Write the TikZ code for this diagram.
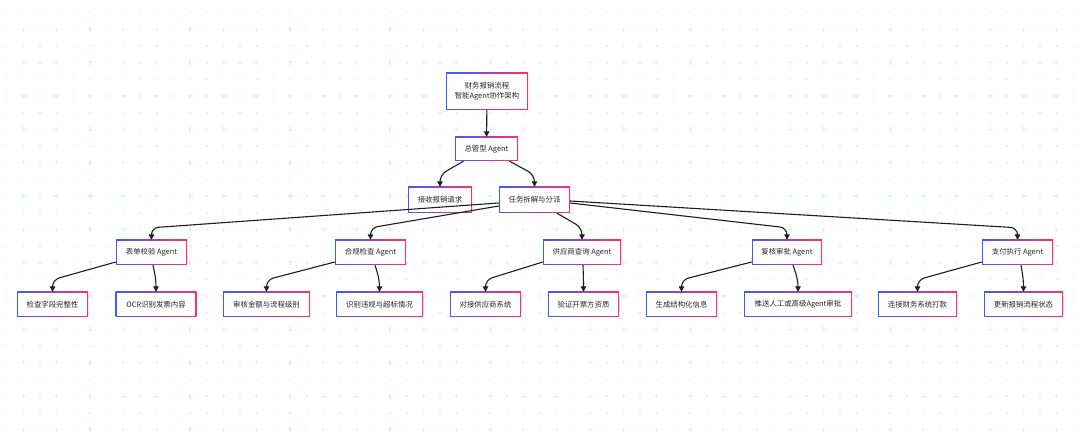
\documentclass[tikz,border=0pt]{standalone}
\usepackage{fontspec}
\setmainfont{Noto Sans CJK SC}
\usetikzlibrary{arrows.meta}

\definecolor{boxblue}{RGB}{60,90,255}
\definecolor{boxpink}{RGB}{255,50,105}
\definecolor{gridcol}{RGB}{226,240,245}
\definecolor{linecol}{RGB}{30,30,30}

\begin{document}
\begin{tikzpicture}[x=1pt,y=-1pt,
        box/.style={rectangle, minimum width=#1, minimum height=25pt, inner xsep=2pt,
            left color=boxblue, right color=boxpink, align=center, text=black!85,
            font=\fontsize{7.4}{10}\selectfont,
            path picture={\fill[white] ([shift={(1.4pt,1.4pt)}]path picture bounding box.south west)
                rectangle ([shift={(-1.4pt,-1.4pt)}]path picture bounding box.north east);}},
        arr/.style={draw=linecol, line width=1.1pt, rounded corners=7pt,
            -{Triangle[length=5.5pt,width=5.5pt]}}]
    \useasboundingbox (0,0) rectangle (1080,438);
    \fill[white] (0,0) rectangle (1080,438);
    % background grid
    \foreach \i in {0,...,64}
        \foreach \j in {0,...,25} {
            \pgfmathtruncatemacro{\odd}{mod(\i,2)*mod(\j,2)}
            \ifnum\odd=1
                \draw[gridcol, line width=1.2pt] (6.67+16.67*\i-2.5,12.7+16.67*\j) -- ++(5,0)
                    (6.67+16.67*\i,12.7+16.67*\j-2.5) -- ++(0,5);
            \else
                \fill[gridcol] (6.67+16.67*\i-0.8,12.7+16.67*\j-0.8) rectangle ++(1.6,1.6);
            \fi
        }

    % top
    \node[box=82pt, minimum height=37pt] (ttl) at (487,91.5) {财务报销流程\\智能Agent协作架构};
    \node[box=63pt, minimum height=24pt] (mgr) at (486.5,149) {总管型 Agent};
    \node[box=64pt, minimum height=26pt] (rcv) at (440,200) {接收报销请求};
    \node[box=71pt, minimum height=26pt] (tsk) at (534.5,200) {任务拆解与分派};

    % agents
    \node[box=71pt] (form) at (151.5,252.5) {表单校验 Agent};
    \node[box=71pt] (comp) at (370.5,252.5) {合规检查 Agent};
    \node[box=78pt] (supp) at (582,252.5) {供应商查询 Agent};
    \node[box=70pt] (rev) at (787,252.5) {复核审批 Agent};
    \node[box=71pt] (pay) at (1017.5,252.5) {支付执行 Agent};

    % tasks
    \node[box=71pt] (chk) at (52.5,304.5) {检查字段完整性};
    \node[box=81pt] (ocr) at (156,304.5) {OCR识别发票内容};
    \node[box=87pt] (amt) at (266.5,304.5) {审核金额与流程级别};
    \node[box=87pt] (viol) at (379.5,304.5) {识别违规与超标情况};
    \node[box=71pt] (sys) at (485.5,304.5) {对接供应商系统};
    \node[box=71pt] (qual) at (583.5,304.5) {验证开票方资质};
    \node[box=71pt] (strc) at (681.5,304.5) {生成结构化信息};
    \node[box=108pt] (push) at (798,304.5) {推送人工或高级Agent审批};
    \node[box=79pt] (conn) at (917.5,304.5) {连接财务系统打款};
    \node[box=79pt] (upd) at (1023.5,304.5) {更新报销流程状态};

    \draw[arr] (ttl) -- (mgr);
    \foreach \from/\sx/\sy/\to in {mgr.south/-23/0/rcv, mgr.south/23/0/tsk,
            tsk.west/0/-3/form, tsk.west/0/-6/comp,
            tsk.south/22.5/0/supp, tsk.east/0/-3/rev, tsk.east/0/-1/pay,
            form.west/0/-9.5/chk, form.south/1.5/0/ocr,
            comp.west/0/-9.5/amt, comp.south/4.5/0/viol,
            supp.west/0/-9.5/sys, supp.south/1/0/qual,
            rev.west/0/-9.5/strc, rev.south/6/0/push,
            pay.west/0/-9.5/conn, pay.south/3.5/0/upd}
        \draw[arr] ([xshift=\sx pt, yshift=\sy pt]\from) -- ([yshift=12pt]\to.north) -- (\to.north);
\end{tikzpicture}
\end{document}
